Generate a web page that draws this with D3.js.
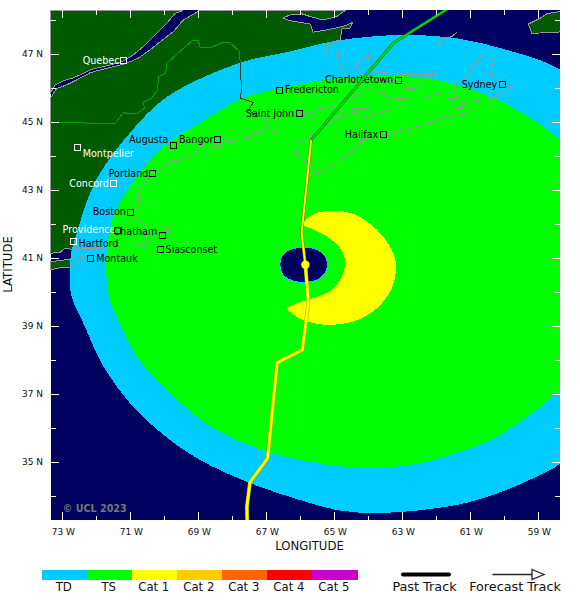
<!DOCTYPE html>
<html><head><meta charset="utf-8">
<script src="https://cdnjs.cloudflare.com/ajax/libs/d3/7.8.5/d3.min.js"></script>
<style>html,body{margin:0;background:#fff}svg{display:block}text{font-family:"DejaVu Sans",sans-serif}</style>
</head><body><svg id="c" width="580" height="602"></svg>
<script>
// ---- Data (longitude, latitude in degrees) ----
const lonMajor=[-73,-71,-69,-67,-65,-63,-61,-59];
const lonMinor=[-72,-70,-68,-66,-64,-62,-60];
const latMajor=[47,45,43,41,39,37,35];
const latMinor=[48,46,44,42,40,38,36,34];
const categories=["TD","TS","Cat 1","Cat 2","Cat 3","Cat 4","Cat 5"];
const categoryColors=["#00ccff","#00ff00","#ffff00","#ffcc00","#ff6600","#ff0000","#cc00cc"];

const tdSwath=[[-72.78,40.72],[-72.72,41.25],[-72.57,41.75],[-72.26,42.72],[-71.89,43.51],[-71.01,44.69],[-69.92,45.75],[-67.77,46.75],[-66.30,47.08],[-64.93,47.40],[-62.98,47.57],[-61.40,47.47],[-59.93,47.13],[-58.37,46.55],[-57.18,45.36],[-56.30,40.66],[-57.18,36.83],[-58.36,34.97],[-58.95,34.63],[-59.93,34.19],[-61.10,33.81],[-62.57,33.58],[-63.75,33.51],[-64.83,33.58],[-66.01,33.89],[-67.48,34.39],[-68.95,35.07],[-70.03,35.81],[-71.01,36.74],[-71.79,37.82],[-72.38,39.09],[-72.74,39.92]];
const tsSwath=[[-71.71,40.78],[-71.65,41.54],[-71.45,42.34],[-71.21,42.81],[-70.12,44.19],[-68.95,44.98],[-67.57,45.76],[-66.30,46.05],[-65.04,46.28],[-63.36,46.37],[-61.99,46.25],[-60.42,45.76],[-59.24,45.13],[-58.37,44.50],[-57.18,43.60],[-56.30,40.95],[-57.18,38.31],[-58.36,37.15],[-58.86,36.69],[-59.54,36.20],[-60.33,35.68],[-61.30,35.32],[-62.39,34.99],[-63.57,34.84],[-64.68,34.86],[-65.71,35.02],[-66.99,35.32],[-68.46,35.95],[-69.73,36.93],[-70.81,38.11],[-71.40,39.29],[-71.62,39.84]];
const cat1Swath=[[-65.91,42.01],[-65.66,42.28],[-65.12,42.39],[-64.44,42.31],[-63.75,41.84],[-63.31,41.25],[-63.18,40.76],[-63.31,40.12],[-63.75,39.53],[-64.44,39.14],[-65.22,39.04],[-65.81,39.14],[-66.20,39.34],[-66.38,39.53],[-66.15,39.66],[-65.62,39.83],[-65.07,40.07],[-64.78,40.46],[-64.68,40.90],[-64.83,41.30],[-65.22,41.64],[-65.62,41.84]];
const eyeOutline=[[-66.60,40.81],[-66.45,41.17],[-65.91,41.33],[-65.37,41.17],[-65.20,40.81],[-65.37,40.45],[-65.91,40.29],[-66.45,40.45]];

const pastTrack=[[-67.56,33.15],[-67.57,33.70],[-67.48,34.41],[-66.96,35.12],[-66.68,37.93],[-65.94,38.31],[-65.76,39.69],[-65.85,40.81]];
const forecastCat1=[[-65.85,40.81],[-65.96,41.75],[-65.68,44.48]];
const forecastTS=[[-65.68,44.48],[-63.26,47.33],[-61.01,48.75]];

const landNorth=[[-73.35,45.85],[-73.21,46.10],[-72.97,46.22],[-72.67,46.31],[-72.38,46.44],[-72.13,46.56],[-71.69,46.66],[-71.25,46.78],[-70.91,46.98],[-70.57,47.27],[-70.42,47.42],[-70.17,47.67],[-69.93,47.91],[-69.68,48.21],[-69.44,48.29],[-73.35,48.29]];
const landSouth=[[-73.35,45.71],[-73.16,46.00],[-72.87,46.10],[-72.57,46.25],[-72.18,46.46],[-71.69,46.59],[-71.15,46.72],[-70.76,46.89],[-70.42,47.13],[-70.12,47.37],[-69.73,47.67],[-69.44,48.01],[-69.00,48.26],[-68.95,48.29],[-64.68,48.29],[-64.93,48.11],[-65.33,48.01],[-65.71,48.11],[-65.95,48.19],[-66.30,48.16],[-66.51,48.07],[-66.30,47.99],[-65.71,47.89],[-65.62,47.65],[-65.22,47.72],[-64.83,47.80],[-64.68,47.84],[-64.46,47.95],[-64.54,47.77],[-64.77,47.75],[-64.83,47.42],[-65.03,47.37],[-65.27,47.11],[-65.22,47.01],[-64.89,47.05],[-64.85,46.74],[-64.63,46.30],[-64.48,46.22],[-64.07,46.07],[-64.24,45.86],[-64.45,45.75],[-64.83,45.51],[-65.33,45.42],[-65.86,45.22],[-66.30,45.28],[-66.69,45.09],[-66.89,45.07],[-67.04,45.12],[-66.94,44.87],[-67.10,44.73],[-67.33,44.68],[-67.53,44.53],[-67.82,44.48],[-68.02,44.39],[-68.16,44.48],[-68.36,44.39],[-68.36,44.24],[-68.51,44.29],[-68.90,44.34],[-69.05,44.14],[-69.34,43.99],[-69.63,43.87],[-69.78,43.89],[-69.93,43.75],[-70.17,43.60],[-70.42,43.50],[-70.66,43.11],[-70.76,42.91],[-70.76,42.67],[-70.57,42.67],[-70.76,42.57],[-70.86,42.42],[-71.01,42.34],[-70.96,42.18],[-70.66,42.08],[-70.52,41.89],[-70.62,41.64],[-70.17,41.76],[-69.93,41.79],[-69.98,42.03],[-69.88,41.84],[-69.91,41.59],[-70.42,41.54],[-70.71,41.39],[-71.01,41.49],[-71.30,41.49],[-71.35,41.34],[-71.89,41.30],[-72.77,41.27],[-72.92,41.30],[-73.07,41.17],[-73.35,41.15]];
const longIsland=[[-73.35,40.66],[-73.16,40.71],[-72.77,40.74],[-72.48,40.90],[-72.23,41.10],[-72.77,40.97],[-73.35,40.90]];
const newfoundland=[[-58.36,48.26],[-58.75,48.19],[-58.95,48.06],[-59.29,47.89],[-59.19,47.62],[-58.46,47.64],[-58.07,47.72],[-58.07,48.45]];
const princeEdward=[[-64.36,46.69],[-64.00,46.98],[-63.95,46.64],[-63.75,46.49],[-63.16,46.42],[-61.99,46.42],[-62.43,46.25],[-62.53,45.97],[-62.87,46.00],[-62.92,46.20],[-63.75,46.25],[-64.19,46.42]];
const novaScotia=[[-64.83,45.36],[-64.29,45.41],[-63.36,45.36],[-64.29,45.12],[-64.36,45.31],[-64.89,45.16],[-65.71,44.58],[-66.06,44.39],[-66.12,44.07],[-65.81,43.80],[-65.66,43.50],[-65.32,43.55],[-64.93,43.80],[-64.29,44.29],[-64.19,44.53],[-63.65,44.48],[-63.36,44.68],[-62.38,44.92],[-61.59,45.17],[-60.96,45.27],[-61.01,45.36],[-61.45,45.41],[-61.20,45.46],[-61.25,45.58],[-60.32,45.71],[-59.78,46.05],[-60.12,46.20],[-60.42,46.39],[-60.30,46.84],[-60.42,46.98],[-60.71,46.93],[-61.20,46.25],[-61.50,46.10],[-61.40,45.71],[-61.89,45.66],[-61.94,45.86],[-62.38,45.66],[-63.26,45.71],[-64.05,46.00]];
const magdalen=[[-61.40,47.64],[-61.55,47.52],[-61.89,47.40],[-61.94,47.25],[-61.80,47.28]];
const grandManan=[[-66.79,44.73],[-66.71,44.69],[-66.74,44.80],[-66.79,44.73]];
const nantucket=[[-70.62,41.34],[-70.42,41.39]];
const mountDesert=[[-68.77,44.06],[-68.74,44.08]];
const blockIsland=[[-71.45,41.20],[-71.42,41.21]];
const borderOverLand=[[-73.35,44.99],[-71.45,44.97],[-71.20,45.29],[-71.06,45.25],[-70.81,45.25],[-70.57,45.42],[-70.63,45.58],[-70.37,45.71],[-70.20,45.95],[-70.17,46.34],[-69.96,46.44],[-69.93,46.74],[-69.16,47.42],[-69.00,47.40],[-68.95,47.21],[-68.60,47.21],[-68.31,47.34],[-68.07,47.34],[-67.79,47.08],[-67.77,46.78]];
const borderOverSwath=[[-67.77,46.78],[-67.73,45.95],[-67.77,45.71],[-67.38,45.58],[-67.53,45.37],[-67.28,45.17]];

const cityNames=["Quebec","Montpelier","Concord","Portland","Boston","Providence","Hartford","Montauk","Chatham","Siasconset","Augusta","Bangor","Saint John","Fredericton","Charlottetown","Halifax","Sydney"];
const cityLon=[-71.20,-72.56,-71.49,-70.35,-70.99,-71.37,-72.66,-72.17,-70.06,-70.12,-69.73,-68.44,-66.02,-66.62,-63.12,-63.55,-60.06];
const cityLat=[46.82,44.27,43.21,43.50,42.36,41.82,41.49,41.00,41.67,41.25,44.33,44.49,45.27,45.95,46.24,44.65,46.11];

// ---- Layout & style ----
const labelStyle={Quebec:[-4,0,"end","#fff","#fff"],Montpelier:[5.4,6.4,"start","#fff","#fff"],Concord:[-4.7,0,"end","#fff","#fff"],Portland:[-4,0,"end","#000","#000"],Boston:[-4.7,0,"end","#000","#000"],Providence:[-2.3,-.7,"end","#fff","#000"],Hartford:[4.6,2.3,"start","#000","#fff"],Montauk:[5.7,0,"start","#000","#000"],Chatham:[-5,-3.7,"end","#000","#000"],Siasconset:[5.4,0,"start","#000","#000"],Augusta:[-5,-5.3,"end","#000","#000"],Bangor:[-4,0,"end","#000","#000"],"Saint John":[-5.4,.7,"end","#000","#000"],Fredericton:[5.7,0,"start","#000","#000"],Charlottetown:[-5,-.6,"end","#000","#000"],Halifax:[-5.4,0,"end","#000","#000"],Sydney:[-5,0,"end","#000","#000"]};
const NAVY="#000060",LAND="#005a00",COAST="#999999";
const x=d3.scaleLinear().domain([-73.35,-58.37]).range([50.4,559.7]);
const y=d3.scaleLinear().domain([33.303,48.303]).range([520,10]);
const svg=d3.select("#c");
const X0=50,X1=560,Y0=10,Y1=520;
svg.append("clipPath").attr("id","plot").append("rect").attr("x",X0).attr("y",Y0).attr("width",X1-X0).attr("height",Y1-Y0);
const g=svg.append("g").attr("clip-path","url(#plot)");
g.append("rect").attr("x",51).attr("y",Y0).attr("width",X1-51).attr("height",Y1-Y0).attr("fill",NAVY);

const straight=d3.line().x(d=>x(d[0])).y(d=>y(d[1]));
const closedPoly=d=>straight(d)+"Z";
const smooth=d3.line().x(d=>x(d[0])).y(d=>y(d[1])).curve(d3.curveCatmullRomClosed.alpha(.5));

// land fills
[landNorth,landSouth,longIsland,newfoundland].forEach(p=>g.append("path").attr("d",closedPoly(p)).attr("fill",LAND));
// swaths
[[tdSwath,categoryColors[0]],[tsSwath,categoryColors[1]],[cat1Swath,categoryColors[2]]].forEach(([p,c])=>
  g.append("path").attr("d",smooth(p)).attr("fill",c).attr("shape-rendering","crispEdges"));
g.append("path").attr("d",smooth(eyeOutline)).attr("fill",NAVY).attr("stroke",categoryColors[0]).attr("stroke-width",1).attr("shape-rendering","crispEdges");

// coast outlines
[landNorth,landSouth,longIsland,newfoundland,princeEdward].forEach(p=>g.append("path").attr("d",closedPoly(p)).attr("fill","none").attr("stroke",COAST).attr("stroke-width",1).attr("shape-rendering","crispEdges"));
[novaScotia,magdalen,grandManan,nantucket,mountDesert,blockIsland].forEach(p=>g.append("path").attr("d",straight(p)).attr("fill","none").attr("stroke",COAST).attr("stroke-width",1).attr("shape-rendering","crispEdges"));
g.append("path").attr("d",straight(borderOverLand)).attr("fill","none").attr("stroke","#00a000").attr("stroke-width",1).attr("shape-rendering","crispEdges");
g.append("path").attr("d",straight(borderOverSwath)).attr("fill","none").attr("stroke","#3a3a1a").attr("stroke-width",1).attr("shape-rendering","crispEdges");

// cities
cityNames.forEach((n,i)=>{
  const s=labelStyle[n],cx=x(cityLon[i]),cy=y(cityLat[i]);
  g.append("rect").attr("x",cx-3).attr("y",cy-3).attr("width",6).attr("height",6).attr("fill","none").attr("stroke",s[4]).attr("stroke-width",1).attr("shape-rendering","crispEdges");
  g.append("text").text(n).attr("x",cx+s[0]).attr("y",cy+s[1]).attr("dy",".35em").attr("text-anchor",s[2]).attr("fill",s[3]).attr("font-size",9.6);
});

// tracks
const trackDraw=(p,under,over,wu,wo)=>{
  g.append("path").attr("d",straight(p)).attr("fill","none").attr("stroke",under).attr("stroke-width",wu).attr("stroke-linejoin","round");
  g.append("path").attr("d",straight(p)).attr("fill","none").attr("stroke",over).attr("stroke-width",wo).attr("stroke-linejoin","round");
};
trackDraw(pastTrack,"#a8a800","#ffff00",3.8,2.8);
trackDraw(forecastCat1,"#8a6a00","#ffff00",3,2);
trackDraw(forecastTS,"#007a20","#00e000",3,1.8);
g.append("circle").attr("cx",x(pastTrack[pastTrack.length-1][0])).attr("cy",y(pastTrack[pastTrack.length-1][1])).attr("r",4.2).attr("fill","#ffff00");

g.append("text").text("© UCL 2023").attr("x",x(-73)+.5).attr("y",508.5).attr("dy",".35em").attr("fill","#777777").attr("font-size",9.6).attr("font-weight","bold");

// axes (white ticks inside the plot)
const clean=s=>{s.select(".domain").remove();s.selectAll("line").attr("stroke","#fff").attr("shape-rendering","crispEdges");};
const tickAxis=(a,vals,len,tr)=>svg.append("g").attr("transform",tr).call(a.tickValues(vals).tickSize(-len).tickFormat("")).call(clean);
const tBot=`translate(0,${Y1})`,tTop=`translate(0,${Y0})`,tLeft=`translate(${X0+.5},0)`,tRight=`translate(${X1-.5},0)`;
tickAxis(d3.axisBottom(x),lonMajor,8,tBot);tickAxis(d3.axisBottom(x),lonMinor,4.5,tBot);
tickAxis(d3.axisTop(x),lonMajor,8,tTop);tickAxis(d3.axisTop(x),lonMinor,5,tTop);
tickAxis(d3.axisLeft(y),latMajor,8,tLeft);tickAxis(d3.axisLeft(y),latMinor,5,tLeft);
tickAxis(d3.axisRight(y),latMajor,8,tRight);tickAxis(d3.axisRight(y),latMinor,5,tRight);

lonMajor.forEach(v=>svg.append("text").text(Math.abs(v)+" W").attr("x",x(v)+1).attr("y",531.5).attr("dy",".35em").attr("text-anchor","middle").attr("font-size",9).attr("fill","#111"));
latMajor.forEach(v=>svg.append("text").text(v+" N").attr("x",43).attr("y",y(v)).attr("dy",".35em").attr("text-anchor","end").attr("font-size",9).attr("fill","#111"));
svg.append("text").text("LONGITUDE").attr("x",309.5).attr("y",545.5).attr("dy",".35em").attr("text-anchor","middle").attr("font-size",11.7).attr("fill","#111");
svg.append("text").text("LATITUDE").attr("transform","translate(8,264.5) rotate(-90)").attr("dy",".35em").attr("text-anchor","middle").attr("font-size",11.7).attr("fill","#111");

// legend
const band=d3.scaleBand().domain(categories).range([42.2,357.4]);
categories.forEach((c,i)=>{
  svg.append("rect").attr("x",band(c)).attr("y",569.5).attr("width",band.bandwidth()+.3).attr("height",10).attr("fill",categoryColors[i]).attr("shape-rendering","crispEdges");
  svg.append("text").text(c).attr("x",band(c)+band.bandwidth()/2-1).attr("y",587).attr("dy",".35em").attr("text-anchor","middle").attr("font-size",11.7).attr("fill","#111");
});
svg.append("line").attr("x1",403).attr("x2",449).attr("y1",574.5).attr("y2",574.5).attr("stroke","#000").attr("stroke-width",4).attr("stroke-linecap","round");
svg.append("text").text("Past Track").attr("x",424.5).attr("y",587).attr("dy",".35em").attr("text-anchor","middle").attr("font-size",12.8).attr("fill","#111");
svg.append("line").attr("x1",492.5).attr("x2",532).attr("y1",574.5).attr("y2",574.5).attr("stroke","#222").attr("stroke-width",1.5);
svg.append("path").attr("d","M532,569.5L544,574.5L532,579.5Z").attr("fill","none").attr("stroke","#222").attr("stroke-width",1.3);
svg.append("text").text("Forecast Track").attr("x",515).attr("y",587).attr("dy",".35em").attr("text-anchor","middle").attr("font-size",12.8).attr("fill","#111");
</script></body></html>
